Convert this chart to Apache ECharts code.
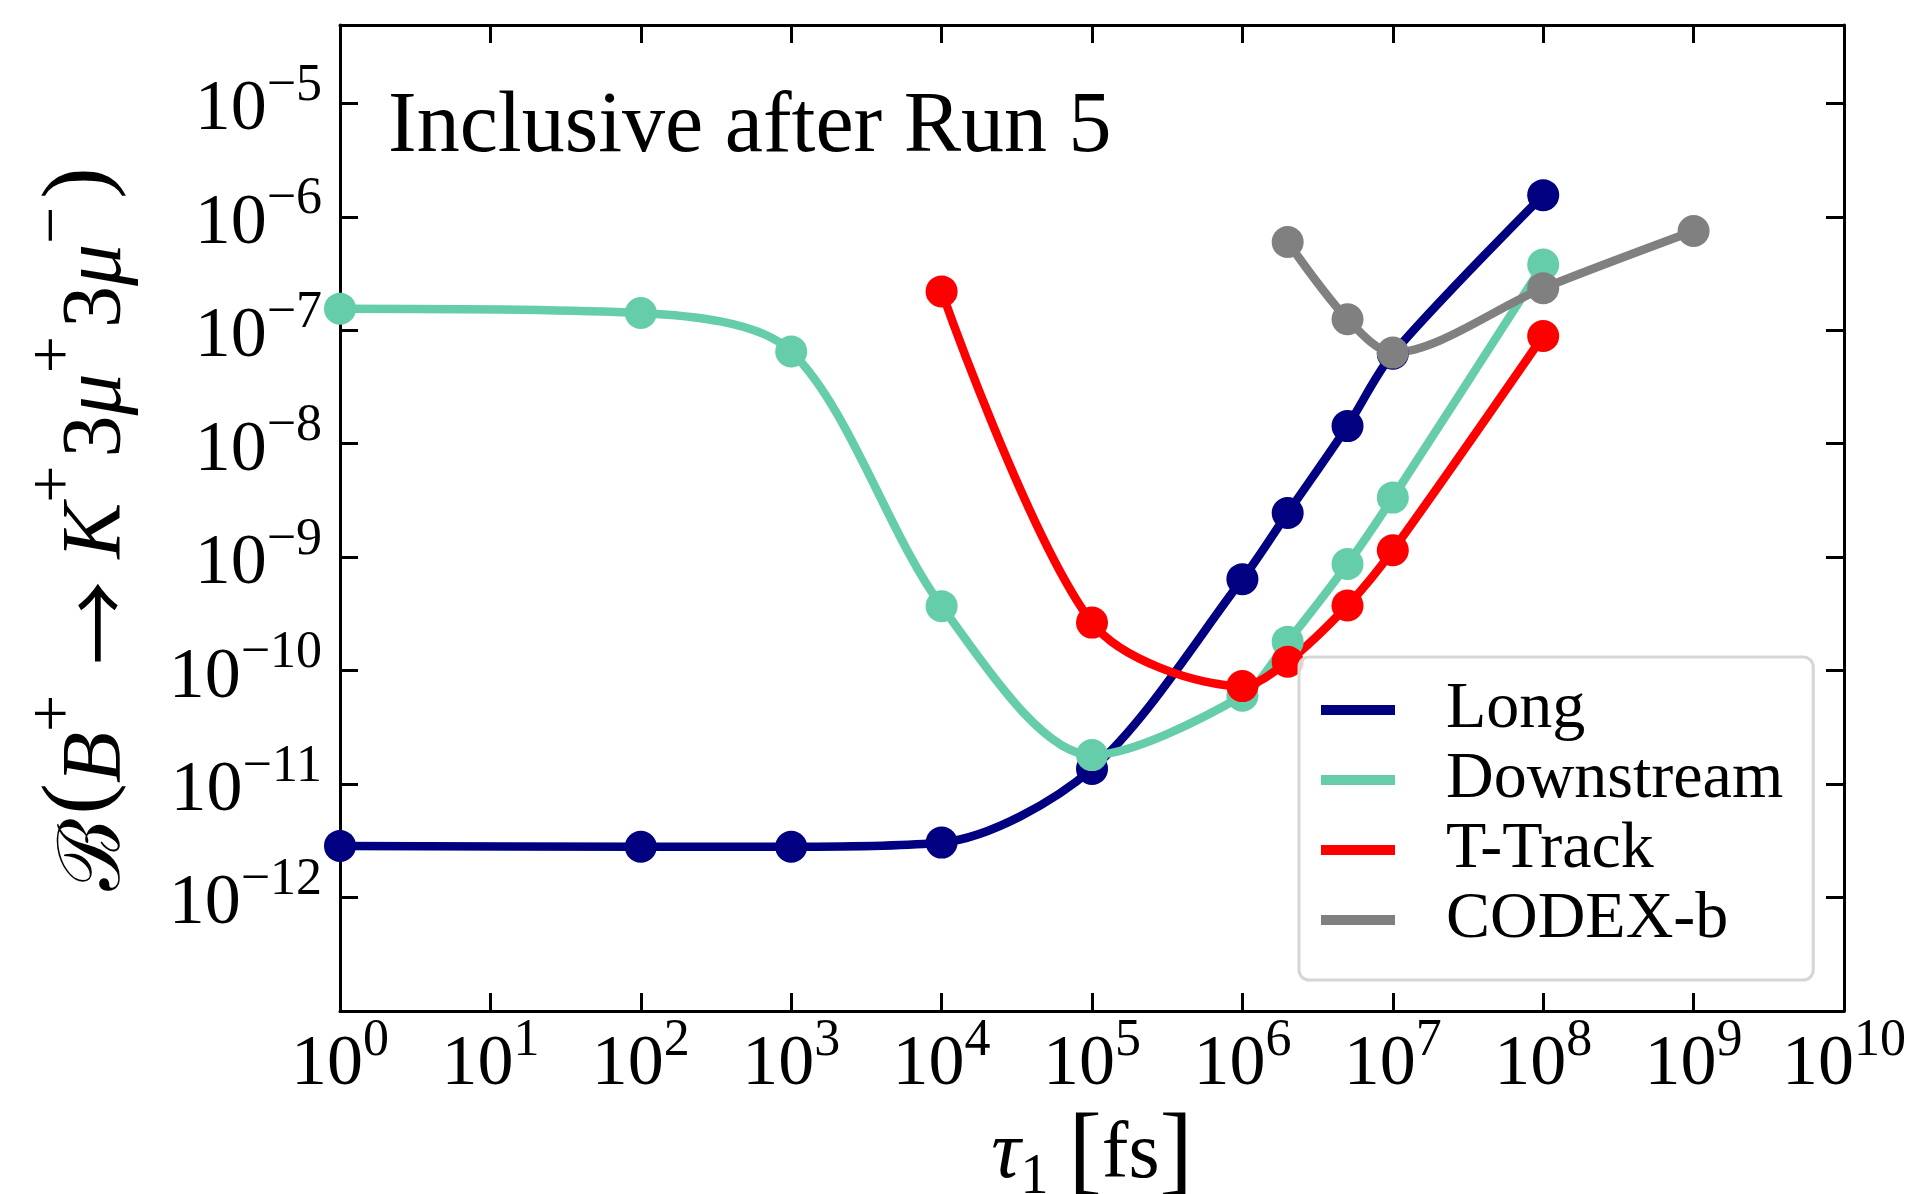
<!DOCTYPE html>
<html><head><meta charset="utf-8">
<script src="https://cdn.jsdelivr.net/npm/echarts@6/dist/echarts.min.js"></script>
<style>html,body{margin:0;padding:0;background:#fff}#c{width:1916px;height:1194px}</style>
</head><body><div id="c"></div>
<script>
// ---- data ----
const seriesNames = ['Long', 'Downstream', 'T-Track', 'CODEX-b'];
const seriesColors = ['#000080', '#66CDAA', '#FF0000', '#808080'];

const longX = [1, 1e2, 1e3, 1e4, 1e5, 1e6, 2e6, 5e6, 1e7, 1e8];
const longY = [2.85e-12, 2.8e-12, 2.8e-12, 3.05e-12, 1.36e-11, 6.4e-10, 2.45e-9, 1.43e-8, 6.2e-8, 1.55e-6];

const downX = [1, 1e2, 1e3, 1e4, 1e5, 1e6, 2e6, 5e6, 1e7, 1e8];
const downY = [1.55e-7, 1.42e-7, 6.5e-8, 3.7e-10, 1.8e-11, 6.0e-11, 1.8e-10, 8.7e-10, 3.35e-9, 3.8e-7];

const trackX = [1e4, 1e5, 1e6, 2e6, 5e6, 1e7, 1e8];
const trackY = [2.2e-7, 2.65e-10, 7.3e-11, 1.2e-10, 3.75e-10, 1.15e-9, 8.9e-8];

const codexX = [2e6, 5e6, 1e7, 1e8, 1e9];
const codexY = [6.0e-7, 1.25e-7, 6.35e-8, 2.35e-7, 7.5e-7];

const xTicks = [1, 1e1, 1e2, 1e3, 1e4, 1e5, 1e6, 1e7, 1e8, 1e9, 1e10];
const yTicks = [1e-12, 1e-11, 1e-10, 1e-9, 1e-8, 1e-7, 1e-6, 1e-5];

const titleText = 'Inclusive after Run 5';
// ---------------------------------------

const FONT = 'Liberation Serif';
const pairs = (xs, ys) => xs.map((x, i) => [x, ys[i]]);
const allX = [longX, downX, trackX, codexX];
const allY = [longY, downY, trackY, codexY];

function supLabel(v) {
  const e = Math.round(Math.log10(v));
  return '{b|10}{s|' + String(e).replace('-', '\u2212') + '}';
}
const tickRich = {
  b: { fontFamily: FONT, fontSize: 72, color: '#000', lineHeight: 86, verticalAlign: 'bottom' },
  s: { fontFamily: FONT, fontSize: 52, color: '#000', lineHeight: 52, verticalAlign: 'top' }
};
const axisLineStyle = { color: '#000', width: 3 };

function makeX(pos, showLabel) {
  return {
    type: 'log', logBase: 10, min: 1, max: 1e10, position: pos,
    axisLine: { show: true, onZero: false, lineStyle: axisLineStyle },
    axisTick: { show: true, inside: true, length: 18, lineStyle: { color: '#000', width: 3 }, customValues: xTicks },
    axisLabel: { show: showLabel, margin: 4, formatter: supLabel, rich: tickRich, customValues: xTicks },
    splitLine: { show: false }, minorTick: { show: false }
  };
}
function makeY(pos, showLabel) {
  return {
    type: 'log', logBase: 10, min: 1e-13, max: 4.9e-5, position: pos,
    axisLine: { show: true, onZero: false, lineStyle: axisLineStyle },
    axisTick: { show: true, inside: true, length: 18, lineStyle: { color: '#000', width: 3 }, customValues: yTicks },
    axisLabel: { show: showLabel, margin: 18, formatter: supLabel, rich: tickRich, customValues: yTicks },
    splitLine: { show: false }, minorTick: { show: false }
  };
}

const xA = makeX('bottom', true);
xA.name = '{i|\u03C4}{sub|1}{n| }{p|[}{n|fs}{p|]}';
xA.nameLocation = 'middle';
xA.nameGap = 92;
xA.nameTextStyle = {
  rich: {
    i: { fontFamily: FONT, fontStyle: 'italic', fontSize: 82, color: '#000', lineHeight: 100, verticalAlign: 'middle' },
    sub: { fontFamily: FONT, fontSize: 56, color: '#000', lineHeight: 70, verticalAlign: 'bottom' },
    n: { fontFamily: FONT, fontSize: 80, color: '#000', lineHeight: 100, verticalAlign: 'middle' },
    p: { fontFamily: FONT, fontSize: 100, color: '#000', lineHeight: 100, verticalAlign: 'middle' }
  }
};
const yA = makeY('left', true);
yA.name = '{c|\u212C}{p|(}{i|B}{s|+}{a|\u2192}{i|K}{s|+}{n|3}{i|\u03BC}{s|+}{n|3}{i|\u03BC}{s|\u2212}{p|)}';
yA.nameLocation = 'middle';
yA.nameRotate = 90;
yA.nameGap = 200;
yA.nameTextStyle = {
  padding: [0, 22, 0, 0],
  rich: {
    c: { fontFamily: 'DejaVu Serif', fontSize: 86, color: '#000', lineHeight: 118, verticalAlign: 'bottom', padding: [0, 4, 0, 0] },
    n: { fontFamily: FONT, fontSize: 84, color: '#000', lineHeight: 118, verticalAlign: 'bottom' },
    i: { fontFamily: FONT, fontStyle: 'italic', fontSize: 84, color: '#000', lineHeight: 118, verticalAlign: 'bottom' },
    a: { fontFamily: 'Noto Sans CJK SC', fontSize: 84, color: '#000', lineHeight: 118, verticalAlign: 'bottom', padding: [0, 22, 0, 22] },
    p: { fontFamily: FONT, fontSize: 94, color: '#000', lineHeight: 118, verticalAlign: 'middle' },
    s: { fontFamily: FONT, fontSize: 66, color: '#000', lineHeight: 75, verticalAlign: 'top', padding: [0, 8, 0, 0] }
  }
};

const series = seriesNames.map((name, k) => ({
  name, type: 'line', xAxisIndex: 0, yAxisIndex: 0,
  data: pairs(allX[k], allY[k]),
  smooth: 0.3,
  symbol: 'circle', symbolSize: 32,
  lineStyle: { color: seriesColors[k], width: 8.5 },
  itemStyle: { color: seriesColors[k] },
  emphasis: { disabled: true },
  animation: false
}));

const chart = echarts.init(document.getElementById('c'), null, { renderer: 'canvas' });
chart.setOption({
  backgroundColor: '#fff',
  animation: false,
  title: {
    text: titleText, left: 383, top: 80,
    textStyle: { fontFamily: FONT, fontSize: 86, fontWeight: 'normal', color: '#000' }
  },
  grid: { left: 340, top: 25, width: 1504, height: 986, containLabel: false, outerBoundsMode: 'none' },
  xAxis: [xA, makeX('top', false)],
  yAxis: [yA, makeY('right', false)],
  legend: {
    data: seriesNames, orient: 'vertical', left: 1299, top: 657,
    icon: 'rect', itemWidth: 74, itemHeight: 10, itemGap: 0,
    backgroundColor: 'rgba(255,255,255,0.8)', borderColor: '#d6d6d6', borderWidth: 3, borderRadius: 10,
    padding: [18, 30, 25, 22],
    textStyle: { fontFamily: FONT, fontSize: 66, color: '#000', lineHeight: 70, padding: [0, 0, 0, 46] },
    selectedMode: false
  },
  series
});
</script></body></html>
